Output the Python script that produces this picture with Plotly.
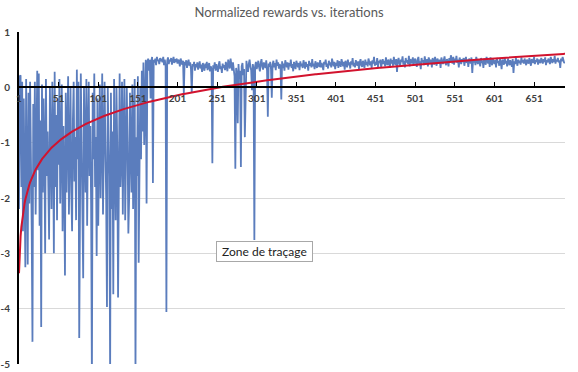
import numpy as np
import plotly.graph_objects as go

title_text = "Normalized rewards vs. iterations"
tooltip_text = "Zone de traçage"

# Rewards per iteration (iterations 1..180: unstable phase)
rewards_early = [
    -2.2, 0.2, 0.22, -1.8, 0.1, -2.6, -0.2, -1.6, -3.25, 0.15,
    -1.2, -3.2, -0.1, -2.1, 0.1, -1.0, -2.5, -4.6, -0.3, -1.8,
    0.1, -2.3, -0.7, 0.3, -1.5, 0.25, -2.5, -0.6, -4.33, 0.05,
    -1.9, -0.2, -1.1, -3.0, 0.15, -1.6, -0.8, -2.3, -2.75, 0.0,
    -1.3, -2.2, 0.1, -0.9, -3.0, 0.28, -1.8, -0.5, -2.4, -0.2,
    -1.4, 0.15, -2.1, -1.0, 0.05, -2.6, -0.7, -1.6, -3.4, -0.1,
    -1.9, -0.8, 0.2, -2.3, -1.2, 0.0, -1.9, -2.6, -0.6, 0.1,
    -1.7, -0.9, -2.4, 0.32, -1.3, 0.1, -4.53, -1.5, 0.25, -1.0,
    -2.2, -3.45, 0.0, -1.1, -1.9, 0.15, -2.5, -0.8, 0.1, -1.6,
    -0.7, -2.1, -5.3, -0.1, -1.3, 0.25, -1.8, -0.9, -3.05, -0.2,
    -2.5, -1.2, 0.05, -2.0, -0.7, 0.25, -2.3, -1.4, 0.1, -1.0,
    -2.0, -3.97, 0.0, -0.9, -1.6, -5.2, -0.1, -2.2, -0.8, -3.74,
    0.15, -1.4, -2.4, 0.0, -1.1, -3.8, -0.6, 0.25, -1.8, -1.3,
    0.1, -2.3, -0.8, 0.15, -2.4, -1.5, 0.0, -1.0, -2.64, -2.0,
    -0.1, -1.2, -1.9, 0.05, -2.2, -0.7, 0.15, -5.2, -0.9, -1.6,
    0.2, -3.17, -1.0, 0.0, -1.3, 0.3, -0.8, 0.45, -1.04, 0.4,
    0.5, -2.1, 0.45, 0.52, 0.3, 0.5, -0.2, 0.48, 0.55, -1.73,
    0.5, 0.45, 0.52, 0.4, 0.55, 0.48, 0.5, 0.42, 0.53, 0.47,
]

# Iterations 181..690: stable phase
rewards_late = [
    0.52, 0.45, 0.55, 0.40, 0.50, 0.38, -4.06, 0.48, 0.54, 0.42, 0.50, 0.47, 0.53, 0.41, 0.49, 0.55, 0.44, 0.51, 0.46, 0.52,
    0.43, 0.50, 0.47, 0.38, 0.52, 0.45, 0.41, 0.48, -0.10, 0.46, 0.40, 0.49, 0.35, 0.44, 0.50, 0.39, 0.45, 0.33, -0.10, 0.42,
    0.38, 0.46, 0.30, 0.42, 0.36, 0.45, 0.32, 0.40, 0.47, 0.34, 0.41, 0.28, 0.44, 0.37, 0.30, 0.43, 0.35, 0.46, 0.31, 0.39,
    0.44, 0.29, 0.38, 0.33, -1.37, 0.40, 0.34, 0.45, 0.30, 0.42, 0.36, 0.28, 0.41, 0.47, 0.33, 0.38, 0.26, 0.43, 0.35, 0.40,
    0.31, 0.46, 0.37, 0.29, 0.50, 0.41, 0.34, 0.52, 0.39, 0.30, 0.45, 0.36, 0.20, -1.47, 0.35, 0.25, -0.65, 0.42, 0.15, 0.30,
    -1.44, 0.38, 0.44, 0.22, 0.33, -0.90, 0.40, 0.48, 0.35, 0.28, 0.43, 0.50, 0.37, 0.31, -0.05, 0.42, 0.34, -2.76, 0.39, 0.46,
    0.33, 0.41, 0.48, 0.36, 0.29, 0.44, 0.51, 0.38, 0.32, 0.45, 0.40, 0.35, 0.49, 0.30, -0.53, 0.43, 0.37, 0.46, 0.33, -0.19,
    0.41, 0.48, 0.36, 0.44, 0.31, 0.50, 0.39, 0.45, 0.34, 0.42, 0.38, -0.22, 0.47, 0.35, 0.43, 0.30, 0.49, 0.40, 0.36, 0.45,
    0.32, 0.44, 0.38, 0.50, 0.35, 0.42, 0.29, 0.46, 0.39, 0.33, 0.48, 0.41, 0.36, 0.44, 0.31, 0.47, 0.38, 0.43, 0.35, 0.49,
    0.40, 0.34, 0.46, 0.37, 0.42, 0.30, 0.48, 0.39, 0.44, 0.36, 0.51, 0.38, 0.43, 0.33, 0.47, 0.40, 0.35, 0.45, 0.41, 0.37,
    0.49, 0.36, 0.44, 0.39, 0.31, 0.46, 0.42, 0.50, 0.37, 0.43, 0.34, 0.48, 0.40, 0.45, 0.36, 0.52, 0.41, 0.38, 0.46, 0.33,
    0.44, 0.39, 0.49, 0.35, 0.47, 0.41, 0.37, 0.51, 0.43, 0.38, 0.46, 0.32, 0.48, 0.42, 0.36, 0.50, 0.40, 0.45, 0.34, 0.47,
    0.41, 0.53, 0.38, 0.44, 0.36, 0.49, 0.42, 0.39, 0.47, 0.33, 0.45, 0.51, 0.40, 0.37, 0.48, 0.43, 0.35, 0.50, 0.41, 0.46,
    0.38, 0.52, 0.44, 0.40, 0.47, 0.35, 0.49, 0.43, 0.55, 0.39, 0.46, 0.41, 0.53, 0.37, 0.48, 0.44, 0.50, 0.36, 0.45, 0.51,
    0.42, 0.48, 0.38, 0.54, 0.44, 0.40, 0.50, 0.46, 0.35, 0.52, 0.43, 0.49, 0.39, 0.55, 0.45, 0.41, 0.51, 0.28, 0.47, 0.53,
    0.44, 0.39, 0.50, 0.46, 0.56, 0.41, 0.48, 0.36, 0.53, 0.45, 0.49, 0.42, 0.57, 0.38, 0.51, 0.46, 0.43, 0.54, 0.40, 0.48,
    0.52, 0.44, 0.37, 0.50, 0.55, 0.42, 0.47, 0.33, 0.53, 0.45, 0.49, 0.40, 0.56, 0.46, 0.43, 0.51, 0.38, 0.54, 0.47, 0.44,
    0.50, 0.36, 0.53, 0.48, 0.41, 0.55, 0.45, 0.39, 0.52, 0.47, 0.43, 0.50, 0.35, 0.54, 0.46, 0.42, 0.49, 0.56, 0.44, 0.40,
    0.51, 0.47, 0.38, 0.53, 0.45, 0.58, 0.49, 0.43, 0.55, 0.41, 0.52, 0.46, 0.57, 0.44, 0.50, 0.36, 0.54, 0.48, 0.42, 0.51,
    0.46, 0.53, 0.39, 0.49, 0.55, 0.44, 0.50, 0.37, 0.52, 0.47, 0.43, 0.54, 0.26, 0.49, 0.45, 0.51, 0.40, 0.55, 0.46, 0.42,
    0.50, 0.47, 0.38, 0.53, 0.44, 0.49, 0.35, 0.52, 0.46, 0.41, 0.55, 0.48, 0.43, 0.50, 0.37, 0.54, 0.45, 0.40, 0.51, 0.47,
    0.42, 0.49, 0.36, 0.53, 0.44, 0.48, 0.39, 0.51, 0.45, 0.33, 0.50, 0.46, 0.41, 0.54, 0.43, 0.48, 0.38, 0.52, 0.45, 0.40,
    0.49, 0.44, 0.37, 0.51, 0.26, 0.47, 0.42, 0.53, 0.46, 0.39, 0.50, 0.44, 0.48, 0.41, 0.54, 0.45, 0.49, 0.43, 0.52, 0.46,
    0.40, 0.50, 0.47, 0.43, 0.53, 0.45, 0.39, 0.51, 0.48, 0.44, 0.55, 0.42, 0.49, 0.46, 0.52, 0.41, 0.50, 0.47, 0.44, 0.53,
    0.48, 0.43, 0.51, 0.46, 0.54, 0.40, 0.49, 0.45, 0.52, 0.47, 0.42, 0.55, 0.48, 0.44, 0.51, 0.46, 0.57, 0.43, 0.50, 0.47,
    0.53, 0.45, 0.49, 0.35, 0.52, 0.47, 0.55, 0.48, 0.44, 0.46,
]

x_ticks = list(range(1, 691, 50))
y_ticks = [1, 0, -1, -2, -3, -4, -5]
y_ticktext = ["1", "0", "-1", "-2", "-3", "-4", "-5"]

rewards = np.array(rewards_early + rewards_late)
iters = np.arange(1, len(rewards) + 1)

# Logarithmic trendline (least squares on ln(x)), like the spreadsheet's trendline
a, b = np.polyfit(np.log(iters), rewards, 1)
trend = a * np.log(iters) + b

fig = go.Figure()
fig.add_trace(go.Scatter(x=iters, y=rewards, mode="lines",
                         line=dict(color="#5b7dbd", width=1.8), hoverinfo="skip",
                         showlegend=False))
fig.add_trace(go.Scatter(x=iters, y=trend, mode="lines",
                         line=dict(color="#d2132e", width=2), hoverinfo="skip",
                         showlegend=False))

tick_font = dict(family="Lato", size=10, color="#404040", weight="bold")

fig.update_layout(
    width=578, height=372,
    margin=dict(l=19, r=13, t=32, b=8, autoexpand=False),
    paper_bgcolor="white", plot_bgcolor="white",
    hovermode=False,
    title=dict(text=title_text, x=0.5, xanchor="center", xref="container",
               y=1 - 12 / 372, yref="container", yanchor="middle",
               automargin=False,
               font=dict(family="Lato", size=13, color="#595959")),
    xaxis=dict(range=[1, len(rewards)], anchor="free", position=5 / 6,
               automargin=False,
               showline=True, linecolor="black", linewidth=2,
               ticks="inside", ticklen=4, tickcolor="black", tickwidth=1,
               tickvals=x_ticks, ticktext=[str(v) for v in x_ticks],
               tickfont=tick_font, showgrid=False, zeroline=False,
               ticklabelstandoff=2),
    yaxis=dict(range=[-5, 1], tickvals=y_ticks, ticktext=y_ticktext,
               automargin=False,
               showgrid=True, gridcolor="#d9d9d9", gridwidth=1,
               showline=True, linecolor="black", linewidth=2,
               zeroline=False, ticks="", tickfont=tick_font,
               ticklabelstandoff=5),
    annotations=[dict(text="&nbsp;" + tooltip_text + "&nbsp;",
                      xref="paper", yref="paper",
                      x=(264.5 - 19) / 546, y=(364 - 251) / 332,
                      xanchor="center", yanchor="middle", showarrow=False,
                      bgcolor="white", bordercolor="#a8a8a8", borderwidth=1,
                      borderpad=2,
                      font=dict(family="Lato", size=12, color="#222222"))],
)

fig.write_html("out.html",
               config={"displayModeBar": False, "staticPlot": True},
               post_script="document.body.style.margin='0';document.body.style.overflow='hidden';")
